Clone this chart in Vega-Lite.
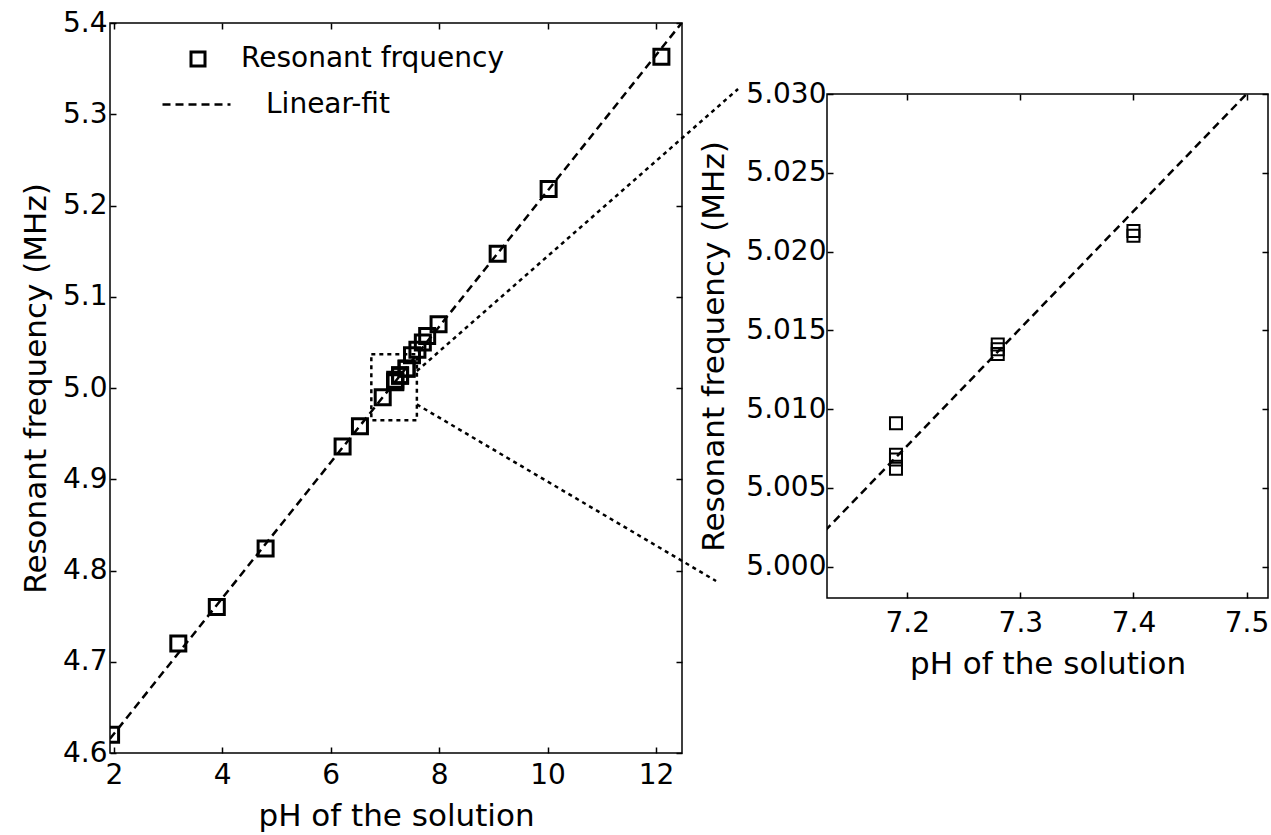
{
  "$schema": "https://vega.github.io/schema/vega-lite/v6.json",
  "background": "white",
  "padding": {"left": 19, "top": 8, "right": 0, "bottom": 0},
  "bounds": "flush",
  "spacing": 145,
  "config": {
    "font": "DejaVu Sans",
    "view": {"stroke": "black", "strokeWidth": 1.5},
    "axis": {
      "labelFont": "DejaVu Sans", "titleFont": "DejaVu Sans",
      "labelFontSize": 28, "titleFontSize": 31, "titleFontWeight": "normal",
      "labelColor": "black", "titleColor": "black",
      "domain": false, "offset": -6,
      "tickColor": "black", "tickWidth": 1.5, "tickSize": 6,
      "grid": false, "labelFlush": false, "labelOverlap": false
    },
    "legend": {"labelFont": "DejaVu Sans", "labelFontSize": 28, "labelColor": "black", "labelLimit": 0}
  },
  "datasets": {
    "pts": [
      {"ph": 1.95, "f": 4.620},
      {"ph": 3.19, "f": 4.720},
      {"ph": 3.90, "f": 4.760},
      {"ph": 4.80, "f": 4.824},
      {"ph": 6.22, "f": 4.936},
      {"ph": 6.54, "f": 4.958},
      {"ph": 6.96, "f": 4.990},
      {"ph": 7.19, "f": 5.0091},
      {"ph": 7.19, "f": 5.0071},
      {"ph": 7.19, "f": 5.0068},
      {"ph": 7.19, "f": 5.0062},
      {"ph": 7.28, "f": 5.0141},
      {"ph": 7.28, "f": 5.0138},
      {"ph": 7.28, "f": 5.0135},
      {"ph": 7.40, "f": 5.0213},
      {"ph": 7.40, "f": 5.0210},
      {"ph": 7.50, "f": 5.036},
      {"ph": 7.60, "f": 5.042},
      {"ph": 7.70, "f": 5.050},
      {"ph": 7.78, "f": 5.057},
      {"ph": 7.99, "f": 5.070},
      {"ph": 9.08, "f": 5.147},
      {"ph": 10.02, "f": 5.218},
      {"ph": 12.10, "f": 5.363}
    ],
    "fit": [
      {"ph": 1.93, "f": 4.6156},
      {"ph": 12.48, "f": 5.4005}
    ],
    "inset": [
      {"ph": 6.75, "ph2": 7.59, "f": 4.9646, "f2": 5.0369}
    ],
    "conn": [
      {"ph": 7.59, "f": 5.0186, "ph2": 13.514, "f2": 5.3277},
      {"ph": 7.59, "f": 4.982, "ph2": 13.108, "f2": 4.7885}
    ]
  },
  "hconcat": [
    {
      "width": 572,
      "height": 730,
      "resolve": {"axis": {"x": "independent", "y": "independent"}},
      "layer": [
        {
          "data": {"name": "fit"},
          "mark": {"type": "line", "clip": true, "color": "black", "strokeWidth": 2.5},
          "encoding": {
            "x": {"field": "ph", "type": "quantitative", "scale": {"domain": [1.93, 12.48], "nice": false, "zero": false},
                  "axis": {"orient": "bottom", "values": [2, 4, 6, 8, 10, 12], "format": "d", "title": "pH of the solution", "labelPadding": 8, "titlePadding": 12}},
            "y": {"field": "f", "type": "quantitative", "scale": {"domain": [4.6, 5.4], "nice": false, "zero": false},
                  "axis": {"orient": "left", "values": [4.6, 4.7, 4.8, 4.9, 5.0, 5.1, 5.2, 5.3, 5.4], "format": ".1f", "title": "Resonant frequency (MHz)", "labelPadding": 3, "titlePadding": 10}},
            "strokeDash": {"datum": "Linear-fit", "scale": {"range": [[8, 5]]},
                  "legend": {"title": null, "orient": "none", "legendX": 51, "legendY": 46, "padding": 0, "symbolType": "stroke", "symbolSize": 4624, "symbolStrokeWidth": 2.5, "symbolStrokeColor": "black", "labelOffset": 34}}
          }
        },
        {
          "data": {"name": "pts"},
          "mark": {"type": "point", "filled": false, "color": "black", "opacity": 1, "strokeWidth": 3, "size": 225, "clip": true},
          "encoding": {
            "x": {"field": "ph", "type": "quantitative", "axis": {"orient": "top", "values": [2, 4, 6, 8, 10, 12], "labels": false, "title": null}},
            "y": {"field": "f", "type": "quantitative", "axis": {"orient": "right", "values": [4.6, 4.7, 4.8, 4.9, 5.0, 5.1, 5.2, 5.3, 5.4], "labels": false, "title": null}},
            "shape": {"datum": "Resonant frquency", "scale": {"range": ["square"]},
                  "legend": {"title": null, "orient": "none", "legendX": 74, "legendY": 22, "padding": 0, "symbolSize": 196, "symbolStrokeWidth": 3, "symbolStrokeColor": "black", "symbolFillColor": "transparent", "symbolOpacity": 1, "labelOffset": 29}}
          }
        },
        {
          "data": {"name": "inset"},
          "mark": {"type": "rect", "fill": "transparent", "stroke": "black", "strokeWidth": 2.5, "strokeDash": [4, 4]},
          "encoding": {
            "x": {"field": "ph", "type": "quantitative", "axis": null},
            "x2": {"field": "ph2"},
            "y": {"field": "f", "type": "quantitative", "axis": null},
            "y2": {"field": "f2"}
          }
        },
        {
          "data": {"name": "conn"},
          "mark": {"type": "rule", "color": "black", "strokeWidth": 2.5, "strokeDash": [4, 4], "clip": false},
          "encoding": {
            "x": {"field": "ph", "type": "quantitative", "axis": null},
            "x2": {"field": "ph2"},
            "y": {"field": "f", "type": "quantitative", "axis": null},
            "y2": {"field": "f2"}
          }
        }
      ]
    },
    {
      "vconcat": [
        {
          "width": 441,
          "height": 51,
          "view": {"stroke": null},
          "data": {"values": [{"a": 0}]},
          "mark": {"type": "point", "opacity": 0},
          "encoding": {}
        },
        {
          "width": 441,
          "height": 504,
          "resolve": {"axis": {"x": "independent", "y": "independent"}},
          "layer": [
            {
              "data": {"name": "fit"},
              "mark": {"type": "line", "clip": true, "color": "black", "strokeWidth": 2.5, "strokeDash": [8, 5]},
              "encoding": {
                "x": {"field": "ph", "type": "quantitative", "scale": {"domain": [7.129, 7.519], "nice": false, "zero": false},
                      "axis": {"orient": "bottom", "values": [7.2, 7.3, 7.4, 7.5], "format": ".1f", "title": "pH of the solution", "labelPadding": 11, "titlePadding": 12}},
                "y": {"field": "f", "type": "quantitative", "scale": {"domain": [4.998, 5.030], "nice": false, "zero": false},
                      "axis": {"orient": "left", "values": [5.000, 5.005, 5.010, 5.015, 5.020, 5.025, 5.030], "format": ".3f", "title": "Resonant frequency (MHz)", "labelPadding": 1, "titlePadding": 15}}
              }
            },
            {
              "data": {"name": "pts"},
              "mark": {"type": "point", "shape": "square", "filled": false, "color": "black", "opacity": 1, "strokeWidth": 2, "size": 144, "clip": true},
              "encoding": {
                "x": {"field": "ph", "type": "quantitative", "axis": {"orient": "top", "values": [7.2, 7.3, 7.4, 7.5], "labels": false, "title": null}},
                "y": {"field": "f", "type": "quantitative", "axis": {"orient": "right", "values": [5.000, 5.005, 5.010, 5.015, 5.020, 5.025, 5.030], "labels": false, "title": null}}
              }
            }
          ]
        }
      ],
      "bounds": "flush",
      "spacing": 20
    }
  ]
}
